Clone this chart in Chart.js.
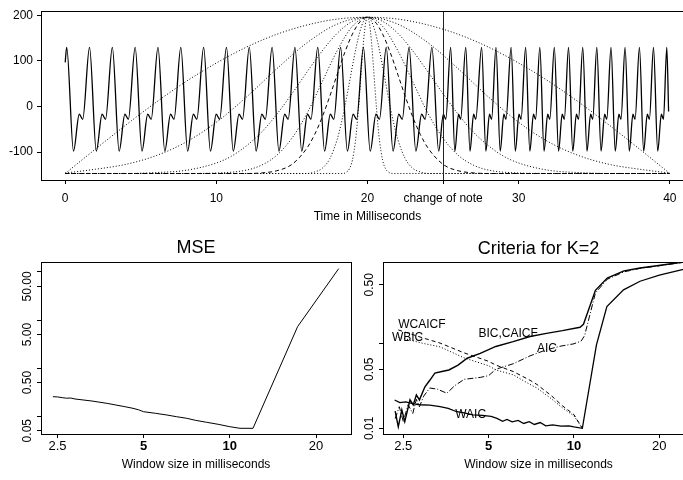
<!DOCTYPE html>
<html><head><meta charset="utf-8">
<script src="https://cdn.jsdelivr.net/npm/chart.js@4/dist/chart.umd.min.js"></script>
<style>
html,body{margin:0;padding:0;overflow:hidden;background:#fff;width:683px;height:480px;position:relative;}
.wrap{position:absolute;}
canvas{display:block;}
</style></head><body>
<div class="wrap" style="left:0;top:0;"><canvas id="topChart" width="700" height="230"></canvas></div>
<div class="wrap" style="left:0;top:230px;"><canvas id="mseChart" width="360" height="250"></canvas></div>
<div class="wrap" style="left:340px;top:230px;"><canvas id="critChart" width="360" height="250"></canvas></div>
<script>
// ================= DATA =================
// --- top panel: signal (ms, amplitude) ---
const signalTime = [0,
0.10,0.55,0.93,1.16, 1.61,2.06,2.44,2.67, 3.12,3.57,3.95,4.18, 4.63,5.08,5.46,5.69,
6.14,6.59,6.97,7.20, 7.65,8.10,8.48,8.71, 9.16,9.61,9.99,10.22, 10.67,11.12,11.50,11.73,
12.18,12.63,13.01,13.24, 13.69,14.14,14.52,14.75, 15.20,15.65,16.03,16.26, 16.71,17.16,17.54,17.77,
18.22,18.67,19.05,19.28, 19.73,20.18,20.56,20.79, 21.24,21.69,22.07,22.30, 22.75,23.20,23.58,23.81,
24.26,24.71,25.02,25.18,
25.50,25.78,26.02,26.16, 26.50,26.78,27.02,27.16, 27.55,27.83,28.07,28.21, 28.50,28.78,29.02,29.16,
29.50,29.78,30.02,30.16, 30.46,30.74,30.98,31.12, 31.40,31.68,31.92,32.06, 32.36,32.64,32.88,33.02,
33.30,33.58,33.82,33.96, 34.24,34.52,34.76,34.90, 35.17,35.45,35.69,35.83, 36.11,36.39,36.63,36.77,
37.04,37.32,37.56,37.70, 37.99,38.27,38.51,38.65, 38.92,39.20,39.44,39.58,
39.80,39.92];
const signalValue = [97,
130,-98,-17,-28, 130,-98,-17,-28, 130,-98,-17,-28, 130,-98,-17,-28,
130,-98,-17,-28, 130,-98,-17,-28, 130,-98,-17,-28, 130,-98,-17,-28,
130,-98,-17,-28, 130,-98,-17,-28, 130,-98,-17,-28, 130,-98,-17,-28,
130,-98,-17,-28, 130,-98,-17,-28, 130,-98,-17,-28, 130,-98,-17,-28,
130,-98,-17,-28,
130,-98,-17,-28, 130,-98,-17,-28, 130,-98,-17,-28, 130,-98,-17,-28,
130,-98,-17,-28, 130,-98,-17,-28, 130,-98,-17,-28, 130,-98,-17,-28,
130,-98,-17,-28, 130,-98,-17,-28, 130,-98,-17,-28, 130,-98,-17,-28,
130,-98,-17,-28, 130,-98,-17,-28, 130,-98,-17,-28,
130,-11];
const noteChange = 25;
const windowCentre = 20;
const windowBaseline = -147;
const timeRange = [0, 40];
// window shapes: distance from centre (ms) and value
const win1Offset = [0,2,4,6,8,10,12,14,16,18,20];
const win1Value  = [196,192,179,158.6,130.5,95.5,55,9,-41,-93.5,-147];
const win2Offset = [0,2,4,6,8,10,12,14,16,18,20];
const win2Value  = [196,181,140,83,21,-34.5,-78,-108,-127,-137.7,-146];
const win3Offset = [0,1,2,3,4,5,6,7,8,9,10,12,14,16];
const win3Value  = [196,187,161,122,76,28,-17,-56,-86,-109,-124,-140,-145,-147];
const win4Offset = [0,1,2,3,4,5,6,7,8,10,12];
const win4Value  = [196,176,123,54,-15,-69.5,-107,-128.5,-139.5,-146,-147];
const win5Offset = [0,0.5,1,1.5,2,2.5,3,3.5,4,5,6,7,8];
const win5Value  = [196,186,159,119,71,22,-23.5,-61.6,-91,-127,-141,-145.7,-147];
const win6Offset = [0,0.25,0.5,0.75,1,1.25,1.5,1.75,2,2.5,3,3.5,4];
const win6Value  = [196,188,165,130,88,43,-0.5,-39,-71.5,-114.8,-135.7,-143.7,-147];
const win7Offset = [0,0.1,0.2,0.3,0.4,0.5,0.6,0.7,0.8,1.0,1.2,1.4,1.6];
const win7Value  = [196,188,164,128,84,38,-6,-45,-76,-118,-137,-144,-147];
const topXTicks = [0,10,20,25,30,40];
const topYTicks = [-100,0,100,200];

// --- bottom left: MSE ---
const mseWindow = [2.41,2.5,2.6,2.69,2.78,2.88,3.07,3.3,3.52,3.75,4.0,4.3,4.59,4.8,5.0,5.5,6.03,6.5,7.07,7.6,8.3,9.1,10.0,10.85,12.05,17.25,24.0];
const mseValue  = [0.255,0.252,0.243,0.237,0.239,0.228,0.218,0.207,0.195,0.184,0.171,0.158,0.146,0.136,0.124,0.115,0.106,0.098,0.0906,0.082,0.0748,0.068,0.0606,0.0561,0.0561,7.3,117];
const mseTicks = [0.05,0.1,0.5,1,5,10,50,100];
const mseLabelValues = [0.05,0.5,5,50];
const mseLabelTexts = ["0.05","0.50","5.00","50.00"];
const windowTicks = [2.5,5,10,20];

// --- bottom right: criteria for K=2 ---
const bicWindow = [2.34,2.40,2.47,2.53,2.64,2.71,2.78,2.85,2.98,3.10,3.23,3.42,3.62,3.90,4.20,4.67,5.30,6.10,7.0,8.0,9.1,10.5,10.8,11.9,13.1,15.0,17.1,19.6,24.3];
const bicValue  = [0.016,0.0104,0.0165,0.012,0.0217,0.0189,0.0248,0.0217,0.031,0.037,0.045,0.047,0.049,0.056,0.0675,0.077,0.093,0.106,0.122,0.133,0.143,0.157,0.17,0.43,0.6,0.73,0.79,0.84,0.93];
const aicWindow = [2.34,2.42,2.5,2.6,2.7,2.78,2.85,2.95,3.1,3.3,3.56,3.8,4.1,4.67,5.0,5.3,6.1,7.0,8.0,9.0,10.0,10.6,10.9,11.9,13.1,15.0,17.1,19.6,24.3];
const aicValue  = [0.013,0.018,0.012,0.019,0.015,0.022,0.018,0.024,0.030,0.029,0.026,0.032,0.038,0.040,0.042,0.05,0.058,0.072,0.085,0.094,0.100,0.108,0.125,0.40,0.58,0.71,0.78,0.83,0.92];
const waicWindow = [2.33,2.43,2.55,2.7,2.85,3.1,3.37,3.6,3.86,4.1,4.4,4.75,5.1,5.35,5.6,5.8,6.05,6.35,6.65,6.95,7.25,7.6,7.95,8.4,9.0,9.6,10.0,10.7,12.0,13.06,14.95,17.1,20.0,24.3];
const waicValue  = [0.0216,0.0201,0.0205,0.0196,0.019,0.0188,0.018,0.0172,0.0157,0.0152,0.0144,0.0142,0.0138,0.0131,0.0121,0.0127,0.0119,0.0124,0.0114,0.0120,0.0111,0.0117,0.0107,0.0110,0.0106,0.0107,0.0104,0.010,0.097,0.276,0.435,0.55,0.65,0.76];
const wcaicfWindow = [2.4,2.94,3.37,4.1,5.0,5.3,6.1,7.0,7.4,8.3,9.1,10.0,10.7];
const wcaicfValue  = [0.146,0.117,0.102,0.078,0.062,0.056,0.047,0.037,0.033,0.0245,0.0185,0.0145,0.010];
const wbicWindow = [2.4,2.94,3.37,4.1,5.0,5.3,6.1,7.0,7.4,8.3,9.1,10.0,10.7];
const wbicValue  = [0.12,0.101,0.092,0.068,0.055,0.049,0.043,0.033,0.030,0.0225,0.0175,0.014,0.010];
const critTicks = [0.01,0.05,0.1,0.5];
const critLabelValues = [0.01,0.05,0.5];
const critLabelTexts = ["0.01","0.05","0.50"];
const critNames = ["WCAICF","WBIC","BIC,CAICF","AIC","WAIC"];
const critNameWindow = [2.4,2.28,4.6,7.4,3.81];
const critNameValue = [0.167,0.117,0.131,0.087,0.0144];
const boldTicks = [5,10];

// ================= HELPERS =================
const FONT = '"Liberation Sans", Arial, Helvetica, sans-serif';
const pts = (xs, ys) => xs.map((x,i)=>({x:x, y:ys[i]}));
function windowPoints(off, val){
  const p = [];
  const maxD = off[off.length-1];
  if (windowCentre - maxD > timeRange[0]) p.push({x:timeRange[0], y:windowBaseline});
  for (let i=off.length-1;i>0;i--) p.push({x:windowCentre-off[i], y:val[i]});
  for (let i=0;i<off.length;i++) p.push({x:windowCentre+off[i], y:val[i]});
  if (windowCentre + maxD < timeRange[1]) p.push({x:timeRange[1], y:windowBaseline});
  return p;
}
const boxPlugin = {id:'box', afterDraw(chart){
  const a = chart.chartArea, ctx = chart.ctx;
  ctx.save(); ctx.strokeStyle='#000'; ctx.lineWidth=1;
  ctx.strokeRect(Math.round(a.left)+0.5, Math.round(a.top)+0.5, Math.round(a.right-a.left), Math.round(a.bottom-a.top));
  ctx.restore();
}};
function textPlugin(items){ return {id:'txt'+Math.random(), afterDraw(chart){
  const ctx = chart.ctx; ctx.save(); ctx.fillStyle='#000'; ctx.textBaseline='middle';
  items(chart).forEach(t=>{ ctx.font = t.font; ctx.textAlign = t.align||'center'; ctx.fillText(t.text, t.x, t.y); });
  ctx.restore();
}};}
function rotatedYLabels(values, texts){ return {id:'ylab', afterDraw(chart){
  const s = chart.scales.y, ctx = chart.ctx; ctx.save();
  ctx.font = '12px '+FONT; ctx.fillStyle='#000'; ctx.textAlign='center'; ctx.textBaseline='middle';
  values.forEach((v,i)=>{ const y = s.getPixelForValue(v); ctx.save(); ctx.translate(chart.chartArea.left-13, y); ctx.rotate(-Math.PI/2); ctx.fillText(texts[i],0,0); ctx.restore(); });
  ctx.restore();
}};}
const tickGrid = {drawOnChartArea:false, drawTicks:true, tickLength:4, color:'#000', lineWidth:1};
const baseOpts = {responsive:false, animation:false, events:[], devicePixelRatio:1,
  plugins:{legend:{display:false}, tooltip:{enabled:false}, title:{display:false}}};

// ================= TOP CHART =================
const dotted = [1,2];
const winSets = [[win1Offset,win1Value,dotted],[win2Offset,win2Value,dotted],[win3Offset,win3Value,dotted],
  [win4Offset,win4Value,dotted],[win5Offset,win5Value,[4,3]],[win6Offset,win6Value,dotted],[win7Offset,win7Value,dotted]];
const topDatasets = [{data:pts(signalTime, signalValue), borderColor:'#000', borderWidth:1.3, pointRadius:0, cubicInterpolationMode:'monotone'}];
winSets.forEach(w=>topDatasets.push({data:windowPoints(w[0],w[1]), borderColor:'#000', borderWidth:1, borderDash:w[2], pointRadius:0, cubicInterpolationMode:'monotone'}));

const noteLine = {id:'note', afterDatasetsDraw(chart){
  const x = Math.round(chart.scales.x.getPixelForValue(noteChange))+0.5, a = chart.chartArea, ctx = chart.ctx;
  ctx.save(); ctx.strokeStyle='#222'; ctx.lineWidth=1; ctx.beginPath(); ctx.moveTo(x,a.top); ctx.lineTo(x,a.bottom); ctx.stroke(); ctx.restore();
}};

new Chart(document.getElementById('topChart'), {
  type:'line', data:{datasets:topDatasets},
  options:Object.assign({}, baseOpts, {
    layout:{padding:{top:9,right:6,left:0,bottom:0}},
    scales:{
      x:{type:'linear', min:-1.6, max:41.6, afterFit:s=>{s.height=50;},
        afterBuildTicks:s=>{s.ticks = topXTicks.map(v=>({value:v}));},
        ticks:{autoSkip:false, maxRotation:0, minRotation:0, padding:7, color:'#000', font:{family:FONT,size:12},
          callback:v=> v===noteChange ? 'change of note' : String(v)},
        grid:tickGrid, border:{display:false}},
      y:{type:'linear', min:-161.3, max:209.3, afterFit:s=>{s.width=41;},
        afterBuildTicks:s=>{s.ticks = topYTicks.map(v=>({value:v}));},
        ticks:{padding:4, color:'#000', font:{family:FONT,size:12}, callback:v=>String(v)},
        grid:tickGrid, border:{display:false}}
    }
  }),
  plugins:[noteLine, boxPlugin, textPlugin(c=>[{text:'Time in Milliseconds', x:(c.chartArea.left+c.chartArea.right)/2, y:217, font:'12px '+FONT}])]
});

// ================= MSE CHART =================
const logX = (mn,mx)=>({type:'logarithmic', min:mn, max:mx, afterFit:s=>{s.height=46;},
  afterBuildTicks:s=>{s.ticks = windowTicks.map(v=>({value:v}));},
  ticks:{autoSkip:false, maxRotation:0, minRotation:0, padding:1, color:'#000',
    font:c=>({family:FONT, size:13, weight:(c.tick && boldTicks.includes(c.tick.value))?'bold':'normal'}),
    callback:v=>String(v)},
  grid:tickGrid, border:{display:false}});

new Chart(document.getElementById('mseChart'), {
  type:'line',
  data:{datasets:[{data:pts(mseWindow, mseValue), borderColor:'#000', borderWidth:1, pointRadius:0, tension:0}]},
  options:Object.assign({}, baseOpts, {
    layout:{padding:{top:32,right:9,left:0,bottom:0}},
    scales:{
      x:logX(2.19, 26.5),
      y:{type:'logarithmic', min:0.0427, max:161, afterFit:s=>{s.width=41;},
        afterBuildTicks:s=>{s.ticks = mseTicks.map(v=>({value:v}));},
        ticks:{callback:()=>''}, grid:tickGrid, border:{display:false}}
    }
  }),
  plugins:[boxPlugin, rotatedYLabels(mseLabelValues, mseLabelTexts),
    textPlugin(c=>[{text:'MSE', x:(c.chartArea.left+c.chartArea.right)/2, y:18, font:'18px '+FONT},
                   {text:'Window size in milliseconds', x:(c.chartArea.left+c.chartArea.right)/2, y:235, font:'12px '+FONT}])]
});

// ================= CRITERIA CHART =================
new Chart(document.getElementById('critChart'), {
  type:'line',
  data:{datasets:[
    {data:pts(bicWindow, bicValue), borderColor:'#000', borderWidth:1.4, pointRadius:0, tension:0},
    {data:pts(aicWindow, aicValue), borderColor:'#000', borderWidth:1, borderDash:[6,2,1,2], pointRadius:0, tension:0},
    {data:pts(wcaicfWindow, wcaicfValue), borderColor:'#000', borderWidth:1, borderDash:[4,3], pointRadius:0, tension:0},
    {data:pts(wbicWindow, wbicValue), borderColor:'#000', borderWidth:1, borderDash:[1,2], pointRadius:0, tension:0},
    {data:pts(waicWindow, waicValue), borderColor:'#000', borderWidth:1.3, pointRadius:0, tension:0}
  ]},
  options:Object.assign({}, baseOpts, {
    layout:{padding:{top:32,right:6,left:0,bottom:0}},
    scales:{
      x:logX(2.12, 26.5),
      y:{type:'logarithmic', min:0.00856, max:0.929, afterFit:s=>{s.width=43;},
        afterBuildTicks:s=>{s.ticks = critTicks.map(v=>({value:v}));},
        ticks:{callback:()=>''}, grid:tickGrid, border:{display:false}}
    }
  }),
  plugins:[boxPlugin, rotatedYLabels(critLabelValues, critLabelTexts),
    textPlugin(c=>{
      const a = c.chartArea, xs = c.scales.x, ys = c.scales.y;
      const out = [{text:'Criteria for K=2', x:(a.left+a.right)/2, y:19, font:'18px '+FONT},
                   {text:'Window size in milliseconds', x:(a.left+a.right)/2, y:235, font:'12px '+FONT}];
      critNames.forEach((n,i)=>out.push({text:n, x:xs.getPixelForValue(critNameWindow[i]), y:ys.getPixelForValue(critNameValue[i]), font:'12px '+FONT, align:'left'}));
      return out;
    })]
});
</script>
</body></html>
